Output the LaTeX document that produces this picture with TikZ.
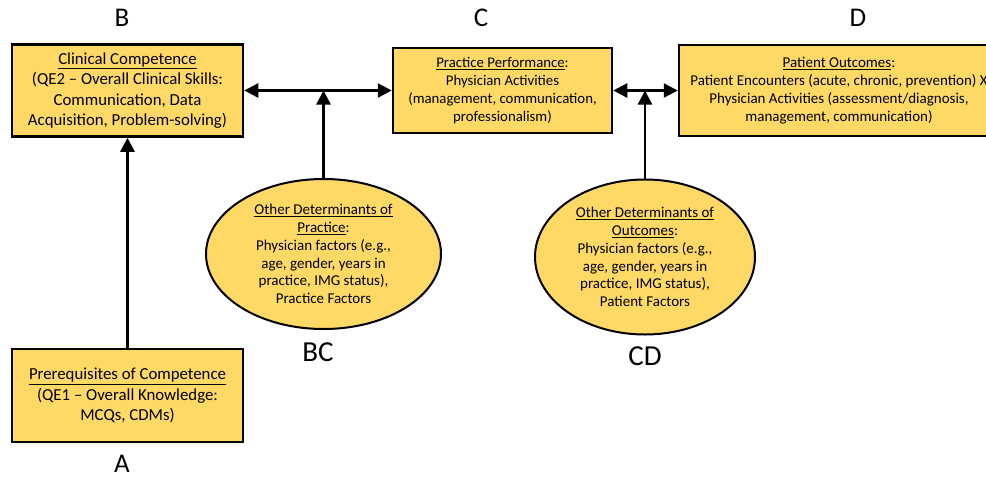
\documentclass[tikz,border=0pt]{standalone}
\usepackage{fontspec}
\setmainfont{Carlito}
\usetikzlibrary{shapes.geometric}
\usetikzlibrary{arrows.meta}
\definecolor{boxyellow}{RGB}{255,217,102}

\tikzset{
  box/.style={draw=black,fill=boxyellow,line width=2.5pt,align=center,
    minimum height=92pt,inner sep=2pt,font=\fontsize{16.8}{20.5}\selectfont},
  oval/.style={ellipse,draw=black,fill=boxyellow,line width=2pt,align=center,
    inner sep=0pt,font=\fontsize{15}{17.8}\selectfont},
  tag/.style={inner sep=0pt,font=\fontsize{27}{30}\selectfont},
  arrowline/.style={line width=2.5pt,-{Triangle[length=14pt,width=14pt]}},
  twoway/.style={line width=2.5pt,{Triangle[length=14pt,width=14pt]}-{Triangle[length=14pt,width=14pt]}}
}

\begin{document}
\begin{tikzpicture}[x=1pt,y=-1pt]
    \useasboundingbox (0,0) rectangle (986,477);
    \clip (0,0) rectangle (986,477);

    % boxes
    \node[box,minimum width=231pt] (B) at (127.5,90.5)
        {\underline{Clinical Competence}\\(QE2 -- Overall Clinical Skills:\\
         Communication, Data\\Acquisition, Problem-solving)};
    \node[box,minimum width=219pt,minimum height=85pt,font=\fontsize{14.8}{18}\selectfont] (C) at (502.5,90.5)
        {\underline{Practice Performance}:\\Physician Activities\\
         (management, communication,\\professionalism)};
    \node[box,minimum width=320pt,minimum height=91pt,font=\fontsize{15}{18}\selectfont] (D) at (839,90.5)
        {\underline{Patient Outcomes}:\\Patient Encounters (acute, chronic, prevention) X\\
         Physician Activities (assessment/diagnosis,\\management, communication)};
    \node[box,minimum width=231pt,minimum height=93pt] (A) at (127.5,395.5)
        {\underline{Prerequisites of Competence}\\(QE1 -- Overall Knowledge:\\MCQs, CDMs)};

    % determinants
    \node[oval,minimum width=235pt,minimum height=150pt] (BC) at (323.5,254)
        {\underline{Other Determinants of}\\\underline{Practice}:\\Physician factors (e.g.,\\
         age, gender, years in\\practice, IMG status),\\Practice Factors};
    \node[oval,minimum width=220pt,minimum height=155pt] (CD) at (645,257)
        {\underline{Other Determinants of}\\\underline{Outcomes}:\\Physician factors (e.g.,\\
         age, gender, years in\\practice, IMG status),\\Patient Factors};

    % letters
    \node[tag] (labB) at (122,18) {B};
    \node[tag] (labC) at (481,18) {C};
    \node[tag] (labD) at (858,18) {D};
    \node[tag] (labA) at (122,464) {A};
    \node[tag,font=\fontsize{29}{32}\selectfont] (labBC) at (318,352) {BC};
    \node[tag,font=\fontsize{29}{32}\selectfont] (labCD) at (645,356) {CD};

    % arrows
    \draw[twoway] (B) -- (C);
    \draw[twoway] (C) -- (D);
    \draw[arrowline] (A) -- (B);
    \draw[arrowline] (BC) -- (BC |- B.east);
    \draw[arrowline] (CD) -- (CD |- C.east);
\end{tikzpicture}
\end{document}
